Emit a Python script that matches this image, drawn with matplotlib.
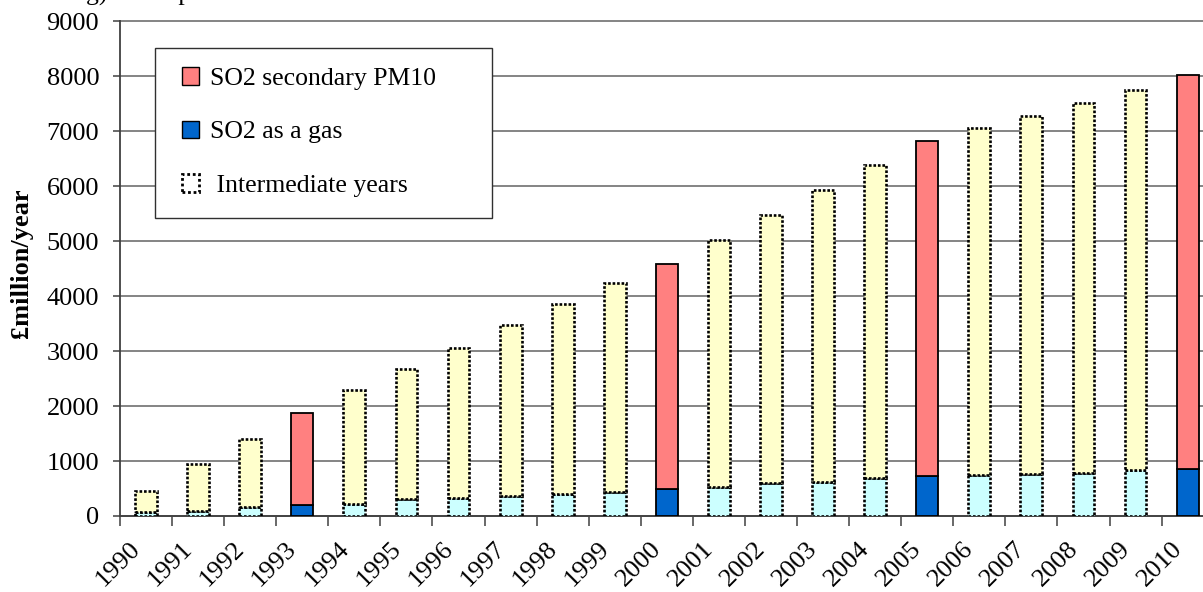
import numpy as np
import matplotlib
matplotlib.use("Agg")
import matplotlib.pyplot as plt
from matplotlib.patches import Patch, Rectangle
from matplotlib.transforms import ScaledTranslation

# Damage costs of SO2 emissions, £million/year
years = [str(y) for y in range(1990, 2011)]
gas = [65, 85, 155, 200, 225, 305, 330, 360, 405, 445, 500,
       530, 595, 610, 685, 730, 740, 765, 790, 830, 855]
total = [460, 940, 1410, 1880, 2290, 2675, 3065, 3480, 3855, 4235, 4595,
         5030, 5480, 5935, 6395, 6830, 7065, 7285, 7525, 7760, 8030]
key_years = ["1993", "2000", "2005", "2010"]
secondary = [t - g for t, g in zip(total, gas)]

yticks = list(range(0, 9001, 1000))

RED = "#FF8080"
BLUE = "#0066CC"
LIGHT_RED = "#FFFFCC"
LIGHT_BLUE = "#CCFFFF"

plt.rcParams["font.family"] = ["Liberation Serif", "DejaVu Serif"]

W, H = 1203, 592
fig = plt.figure(figsize=(W / 100, H / 100), dpi=100)
slot = 52.08
ax = fig.add_axes([120 / W, 76 / H, 21 * slot / W, (516 - 21.5) / H])

x = np.arange(len(years))
dotted = (0, (1, 0.7))
for i, yr in enumerate(years):
    if yr in key_years:
        ax.bar(x[i], gas[i], width=0.42, color=BLUE, edgecolor="black",
               linewidth=1.3, zorder=3)
        ax.bar(x[i], secondary[i], bottom=gas[i], width=0.42, color=RED,
               edgecolor="black", linewidth=1.3, zorder=3)
    else:
        ax.bar(x[i], gas[i], width=0.42, color=LIGHT_BLUE, edgecolor="black",
               linewidth=1.9, linestyle=dotted, zorder=3)
        ax.bar(x[i], secondary[i], bottom=gas[i], width=0.42, color=LIGHT_RED,
               edgecolor="black", linewidth=1.9, linestyle=dotted, zorder=3)

ax.set_xlim(-0.5, len(years) - 0.5)
ax.set_ylim(0, 9000)
ax.set_yticks(yticks)
ax.tick_params(axis="y", labelsize=19, length=5, width=1.1, color="#404040", pad=10)
ax.yaxis.grid(True, color="#707070", linewidth=1.2, zorder=0)
for gl in ax.get_ygridlines():
    gl.set_clip_on(False)

# category boundaries carry the tick marks, labels sit under each bar
ax.set_xticks(np.arange(len(years) + 1) - 0.5)
ax.set_xticklabels([])
ax.tick_params(axis="x", which="major", length=7, width=1.1, color="#404040")
ax.set_xticks(x, years, minor=True)
ax.tick_params(axis="x", which="minor", length=0, labelsize=19, pad=21)
shift = ScaledTranslation(-9 / 100, 0, fig.dpi_scale_trans)
for lab in ax.get_xticklabels(minor=True):
    lab.set_rotation(45)
    lab.set_ha("right")
    lab.set_va("center")
    lab.set_rotation_mode("anchor")
    lab.set_transform(lab.get_transform() + shift)

for side in ("top", "right"):
    ax.spines[side].set_visible(False)
for side in ("left", "bottom"):
    ax.spines[side].set_color("#404040")
    ax.spines[side].set_linewidth(1.3)

ax.set_ylabel("£million/year", fontsize=19, fontweight="bold")
ax.yaxis.set_label_coords((33 - 120) / (21 * slot), 0.512)

# legend box
fig.patches.append(Rectangle((155 / W, 1 - 218 / H), (492 - 155) / W, 170 / H,
                             transform=fig.transFigure, facecolor="white",
                             edgecolor="#303030", linewidth=1.0, zorder=4))
handles = [
    Patch(facecolor=RED, edgecolor="black", linewidth=1.0),
    Patch(facecolor=BLUE, edgecolor="black", linewidth=1.0),
    Patch(facecolor="white", edgecolor="black", linewidth=2.0, linestyle=(0, (1, 1))),
]
labels = ["SO2 secondary PM10", "SO2 as a gas", " Intermediate years"]
leg = fig.legend(handles, labels, loc="upper left",
                 bbox_to_anchor=(182 / W, 1 - 67 / H),
                 fontsize=18.5, frameon=False, borderpad=0,
                 labelspacing=1.2, handlelength=0.68, handleheight=0.68,
                 handletextpad=0.42, borderaxespad=0)
leg.set_zorder(5)

fig.text(66 / W, 1 - 0.5 / H, "ing) in the period 1990 - 2010.", fontsize=18.5,
         ha="left", va="baseline")

fig.savefig("out.png", dpi=100)
